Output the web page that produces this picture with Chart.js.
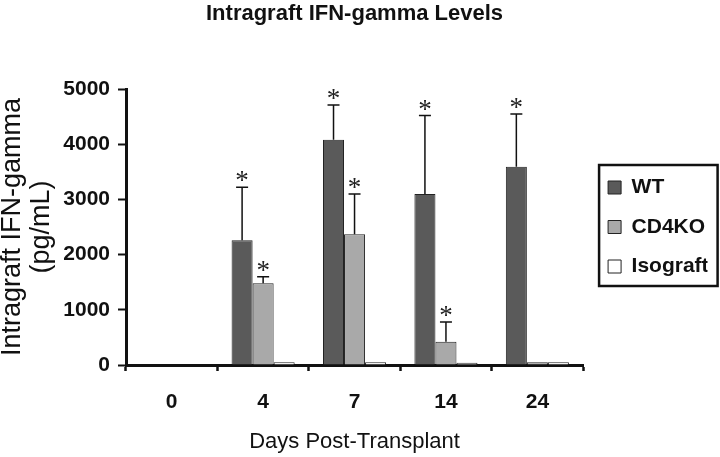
<!DOCTYPE html>
<html>
<head>
<meta charset="utf-8">
<script src="https://cdn.jsdelivr.net/npm/chart.js@4.4.0/dist/chart.umd.min.js"></script>
<style>
    html, body { margin: 0; padding: 0; background: #fff; }
</style>
</head>
<body>
<canvas id="chart" width="720" height="457"></canvas>
<script>
// values (pg/mL), error = upper SD whisker
var days = ['0', '4', '7', '14', '24'];
var wtValues = [0, 2260, 4080, 3100, 3590];
var wtErrors = [0, 960, 630, 1420, 955];
var cd4koValues = [0, 1480, 2370, 420, 50];
var cd4koErrors = [0, 120, 730, 360, 0];
var isoValues = [0, 50, 50, 40, 50];
var isoErrors = [0, 0, 0, 0, 0];
// asterisks (significant)
var wtSig = [false, true, true, true, true];
var cd4koSig = [false, true, true, true, false];
var isoSig = [false, false, false, false, false];
var yTicks = [0, 1000, 2000, 3000, 4000, 5000];

Chart.defaults.font.family = '"Liberation Sans", Arial, sans-serif';
Chart.defaults.color = '#111';

// whiskers + asterisks on top of the bars
var errorBars = {
    id: 'errorBars',
    afterDatasetsDraw: function(chart) {
        var ctx = chart.ctx;
        var y = chart.scales.y;
        chart.data.datasets.forEach(function(ds, i) {
            var meta = chart.getDatasetMeta(i);
            meta.data.forEach(function(bar, j) {
                var top = y.getPixelForValue(ds.data[j] + ds.errors[j]);
                ctx.save();
                ctx.strokeStyle = '#111';
                ctx.lineWidth = 1.5;
                if (ds.errors[j] > 0) {
                    ctx.beginPath();
                    ctx.moveTo(bar.x, bar.y);
                    ctx.lineTo(bar.x, top);
                    ctx.moveTo(bar.x - 6, top);
                    ctx.lineTo(bar.x + 6, top);
                    ctx.stroke();
                }
                if (ds.sig[j]) {
                    ctx.fillStyle = '#222';
                    ctx.font = '27px "Liberation Serif", serif';
                    ctx.textAlign = 'center';
                    ctx.textBaseline = 'middle';
                    ctx.fillText('*', bar.x, top - 5);
                }
                ctx.restore();
            });
        });
    }
};

// frame round the legend
var legendBox = {
    id: 'legendBox',
    afterDraw: function(chart) {
        var hb = chart.legend.legendHitBoxes;
        if (!hb || !hb.length) return;
        var left = hb[0].left, right = 0;
        hb.forEach(function(h) { right = Math.max(right, h.left + h.width); });
        var top = hb[0].top;
        var bottom = hb[hb.length - 1].top + hb[hb.length - 1].height;
        var ctx = chart.ctx;
        ctx.save();
        ctx.strokeStyle = '#111';
        ctx.lineWidth = 2.5;
        ctx.strokeRect(left - 9, top - 12, right - left + 18, bottom - top + 21);
        ctx.restore();
    }
};

function makeSet(label, values, errors, sig, color) {
    return {
        label: label,
        data: values,
        errors: errors,
        sig: sig,
        backgroundColor: color,
        borderColor: '#222',
        borderWidth: 1,
        categoryPercentage: 0.69,
        barPercentage: 1.0
    };
}

new Chart(document.getElementById('chart'), {
    type: 'bar',
    data: {
        labels: days,
        datasets: [
            makeSet('WT', wtValues, wtErrors, wtSig, '#5a5a5a'),
            makeSet('CD4KO', cd4koValues, cd4koErrors, cd4koSig, '#a9a9a9'),
            makeSet('Isograft', isoValues, isoErrors, isoSig, '#ffffff')
        ]
    },
    options: {
        responsive: false,
        animation: false,
        devicePixelRatio: 1,
        layout: { padding: { left: 0, right: 12.5, top: 0, bottom: 0 } },
        plugins: {
            title: {
                display: true,
                text: 'Intragraft IFN-gamma Levels',
                fullSize: false,
                font: { size: 22, weight: 'bold', lineHeight: 1.2 },
                padding: { top: 1, bottom: 61.6 }
            },
            legend: {
                position: 'right',
                fullSize: false,
                labels: {
                    font: { size: 21, weight: 'bold' },
                    boxWidth: 13,
                    boxHeight: 13,
                    padding: 18.5,
                    color: '#111'
                }
            },
            tooltip: { enabled: false }
        },
        scales: {
            x: {
                grid: {
                    display: true,
                    drawOnChartArea: false,
                    drawTicks: true,
                    tickLength: 6,
                    tickWidth: 2.5,
                    tickColor: '#111'
                },
                border: { display: true, color: '#111', width: 3 },
                ticks: { font: { size: 21, weight: 'bold' }, padding: 19 },
                title: {
                    display: true,
                    text: 'Days Post-Transplant',
                    font: { size: 22, lineHeight: 1.2 },
                    padding: { top: 0, bottom: 2 }
                },
                afterFit: function(s) { s.height = 92; }
            },
            y: {
                min: 0,
                max: 5000,
                afterBuildTicks: function(s) {
                    s.ticks = yTicks.map(function(v) { return { value: v }; });
                },
                grid: {
                    display: true,
                    drawOnChartArea: false,
                    drawTicks: true,
                    tickLength: 8,
                    tickWidth: 2,
                    tickColor: '#111'
                },
                border: { display: true, color: '#111', width: 3 },
                ticks: {
                    font: { size: 21, weight: 'bold' },
                    padding: 8,
                    callback: function(v) { return String(v); }
                },
                title: {
                    display: true,
                    text: ['Intragraft IFN-gamma', '(pg/mL)'],
                    font: { size: 27, lineHeight: '29px' },
                    padding: { top: -2, bottom: 0 }
                },
                afterFit: function(s) { s.width = 126; }
            },
            // empty strip between plot and legend
            gap: {
                type: 'linear',
                position: 'right',
                display: true,
                grid: { display: false },
                border: { display: false },
                ticks: { display: false },
                afterFit: function(s) { s.width = 6.5; }
            }
        }
    },
    plugins: [errorBars, legendBox]
});
</script>
</body>
</html>
